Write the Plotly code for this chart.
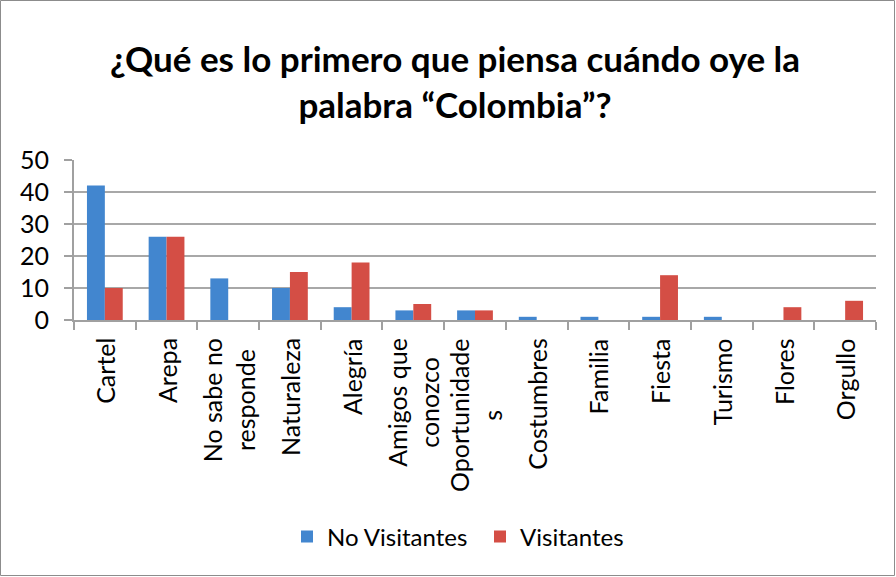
import plotly.graph_objects as go

categories = ["Cartel", "Arepa", "No sabe no<br>responde", "Naturaleza", "Alegría",
              "Amigos que<br>conozco", "Oportunidade<br>s", "Costumbres", "Familia",
              "Fiesta", "Turismo", "Flores", "Orgullo"]
no_visitantes = [42, 26, 13, 10, 4, 3, 3, 1, 1, 1, 1, 0, 0]
visitantes = [10, 26, 0, 15, 18, 5, 3, 0, 0, 14, 0, 4, 6]
y_ticks = [0, 10, 20, 30, 40, 50]

W, H = 896, 577
ML, MR, MT, MB = 74, 20, 160, 257
PW, PH = W - ML - MR, H - MT - MB

FONT = "Lato, 'Open Sans', sans-serif"
AXIS_GRAY = "#a0a0a0"

fig = go.Figure()
fig.add_trace(go.Bar(name="No Visitantes", x=categories, y=no_visitantes,
                     marker=dict(color="#4286cf", line=dict(width=0))))
fig.add_trace(go.Bar(name="Visitantes", x=categories, y=visitantes,
                     marker=dict(color="#d44e45", line=dict(width=0))))

# rotated category labels, lines centred within each label
for cat in categories:
    fig.add_annotation(x=cat, xref="x", y=0, yref="paper", yanchor="top",
                       xanchor="center", yshift=-16, textangle=-90, align="center",
                       text=cat, showarrow=False, font=dict(size=25, color="black"))

# outer chart border
fig.add_shape(type="rect", xref="paper", yref="paper", layer="below",
              x0=(0.5 - ML) / PW, x1=(W - 1.5 - ML) / PW,
              y0=(MT + PH - (H - 1.5)) / PH, y1=(MT + PH - 0.5) / PH,
              line=dict(color="#8c8c8c", width=1), fillcolor="rgba(0,0,0,0)")

fig.update_layout(
    width=W, height=H,
    margin=dict(l=ML, r=MR, t=MT, b=MB),
    paper_bgcolor="white", plot_bgcolor="white",
    barmode="group", bargap=0.42, bargroupgap=0,
    font=dict(family=FONT, color="black", size=24),
    title=dict(text="<b>¿Qué es lo primero que piensa cuándo oye la<br>palabra “Colombia”?</b>",
               x=455 / W, xanchor="center", y=1 - 72 / H, yanchor="top",
               font=dict(family=FONT, size=35, color="black")),
    showlegend=True,
    legend=dict(orientation="h", x=(287 - ML) / PW, xanchor="left",
                y=(MT + PH - 537) / PH, yanchor="middle", yref="paper",
                font=dict(size=24), itemwidth=30, entrywidth=148,
                traceorder="normal"),
    xaxis=dict(type="category", showticklabels=False, showline=True,
               linecolor=AXIS_GRAY, linewidth=2, ticks="outside",
               tickson="boundaries", ticklen=8, tickcolor=AXIS_GRAY, tickwidth=2,
               showgrid=False),
    yaxis=dict(range=[0, 50], tickvals=y_ticks, showgrid=True, gridcolor="#a8a8a8",
               gridwidth=2, showline=True, linecolor=AXIS_GRAY, linewidth=2,
               ticks="outside", ticklen=8, tickcolor=AXIS_GRAY, tickwidth=2,
               zeroline=False, ticklabelstandoff=10, tickfont=dict(size=25)),
)

fig.write_html("out.html")
